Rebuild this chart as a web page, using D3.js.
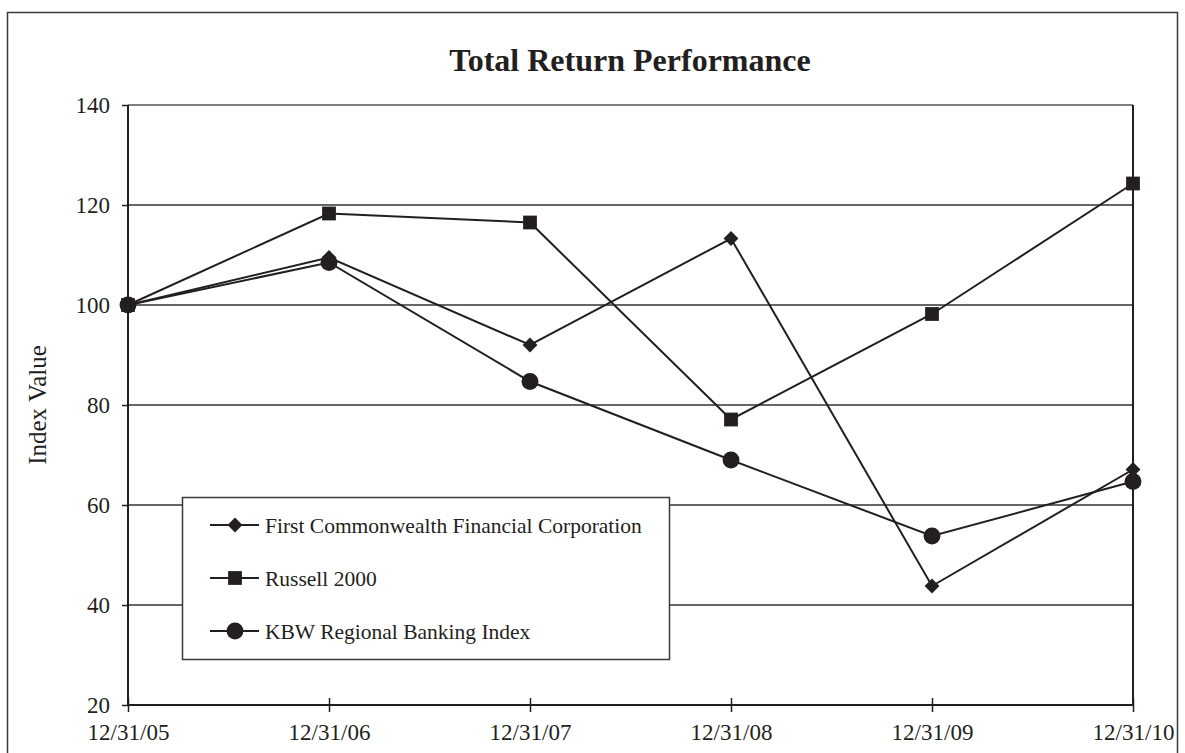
<!DOCTYPE html>
<html>
<head>
<meta charset="utf-8">
<script src="https://cdn.jsdelivr.net/npm/d3@7"></script>
<style>
  html, body { margin: 0; padding: 0; background: #fff; }
  svg { display: block; }
  text { font-family: "Liberation Serif", "Times New Roman", serif; fill: #231f20; }
</style>
</head>
<body>
<svg id="chart" width="1185" height="753"></svg>
<script>
const categories = ["12/31/05", "12/31/06", "12/31/07", "12/31/08", "12/31/09", "12/31/10"];
const firstCommonwealth = [100, 109.5, 92, 113.3, 43.8, 67.1];
const russell2000 = [100, 118.3, 116.5, 77.1, 98.2, 124.3];
const kbwRegional = [100, 108.5, 84.7, 69, 53.8, 64.7];
const yTicks = [20, 40, 60, 80, 100, 120, 140];
const seriesNames = ["First Commonwealth Financial Corporation", "Russell 2000", "KBW Regional Banking Index"];
const seriesMarkers = ["diamond", "square", "circle"];
const titleText = "Total Return Performance";
const yAxisTitle = "Index Value";

const ink = "#231f20";
const svg = d3.select("#chart");

// outer frame
svg.append("rect").attr("x", 7.5).attr("y", 12.5).attr("width", 1170).attr("height", 800)
  .attr("fill", "none").attr("stroke", "#3a3a3a").attr("stroke-width", 1.5);

const plotL = 128, plotR = 1133, plotT = 105, plotB = 705;
const x = d3.scalePoint().domain(categories).range([plotL, plotR]);
const y = d3.scaleLinear().domain([20, 140]).range([plotB, plotT]);

// title
svg.append("text").attr("x", 630).attr("y", 71).attr("text-anchor", "middle")
  .style("font-size", "32px").style("font-weight", "bold").text(titleText);

// gridlines
svg.append("g").selectAll("line").data(yTicks.filter(t => t > 20)).join("line")
  .attr("x1", plotL).attr("x2", plotR)
  .attr("y1", d => y(d)).attr("y2", d => y(d))
  .attr("stroke", (d) => d === 140 ? "#555" : "#333").attr("stroke-width", 1.5);

// right border of plot
svg.append("line").attr("x1", plotR).attr("x2", plotR).attr("y1", plotT).attr("y2", plotB)
  .attr("stroke", ink).attr("stroke-width", 2);

// y axis
const yAxis = d3.axisLeft(y).tickValues(yTicks).tickSize(6).tickPadding(12).tickFormat(d3.format("d"));
const gy = svg.append("g").attr("transform", `translate(${plotL},0)`).call(yAxis);
gy.select(".domain").remove();
gy.selectAll(".tick line").attr("stroke", ink).attr("stroke-width", 1.5);
gy.selectAll(".tick text").style("font-size", "23px").attr("fill", ink);
svg.append("line").attr("x1", plotL).attr("x2", plotL).attr("y1", plotT).attr("y2", plotB)
  .attr("stroke", ink).attr("stroke-width", 2);

// x axis
const xAxis = d3.axisBottom(x).tickSize(7).tickPadding(12);
const gx = svg.append("g").attr("transform", `translate(0,${plotB})`).call(xAxis);
gx.select(".domain").remove();
gx.selectAll(".tick line").attr("y1", -7).attr("y2", 7).attr("stroke", ink).attr("stroke-width", 1.5);
gx.selectAll(".tick text").style("font-size", "23px").attr("fill", ink);
svg.append("line").attr("x1", plotL).attr("x2", plotR).attr("y1", plotB).attr("y2", plotB)
  .attr("stroke", ink).attr("stroke-width", 2);

// y axis title
svg.append("text").attr("transform", "translate(46,405) rotate(-90)").attr("text-anchor", "middle")
  .style("font-size", "25px").text(yAxisTitle);

// symbols
function markerPath(kind) {
  if (kind === "diamond") return d3.symbol().type(d3.symbolSquare).size(110)();
  if (kind === "square") return d3.symbol().type(d3.symbolSquare).size(190)();
  return d3.symbol().type(d3.symbolCircle).size(225)();
}
function markerRotate(kind) { return kind === "diamond" ? " rotate(45)" : ""; }

const seriesData = [firstCommonwealth, russell2000, kbwRegional];
const line = d3.line().x((d, i) => x(categories[i])).y(d => y(d));

seriesData.forEach((vals, si) => {
  svg.append("path").datum(vals).attr("d", line)
    .attr("fill", "none").attr("stroke", ink).attr("stroke-width", 2);
});
seriesData.forEach((vals, si) => {
  svg.append("g").selectAll("path").data(vals).join("path")
    .attr("d", markerPath(seriesMarkers[si]))
    .attr("transform", (d, i) => `translate(${x(categories[i])},${y(d)})${markerRotate(seriesMarkers[si])}`)
    .attr("fill", ink);
});

// legend
const lg = svg.append("g");
lg.append("rect").attr("x", 182.5).attr("y", 497.5).attr("width", 487).attr("height", 162)
  .attr("fill", "#fff").attr("stroke", "#3a3a3a").attr("stroke-width", 1.5);
seriesNames.forEach((name, i) => {
  const cy = 525 + i * 53;
  lg.append("line").attr("x1", 210).attr("x2", 259).attr("y1", cy).attr("y2", cy)
    .attr("stroke", ink).attr("stroke-width", 2);
  lg.append("path").attr("d", markerPath(seriesMarkers[i]))
    .attr("transform", `translate(235,${cy})${markerRotate(seriesMarkers[i])}`).attr("fill", ink);
  lg.append("text").attr("x", 265).attr("y", cy).attr("dy", "0.35em")
    .style("font-size", "21.5px").text(name);
});
</script>
</body>
</html>
